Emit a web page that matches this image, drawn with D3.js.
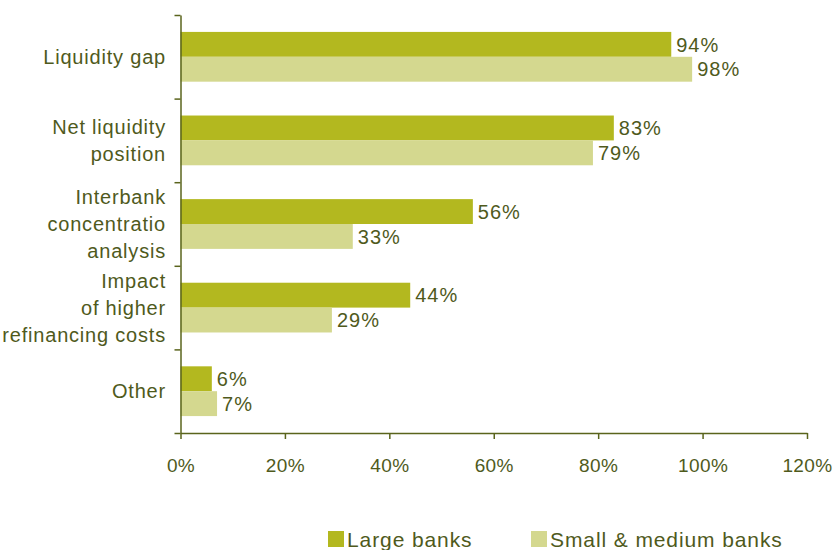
<!DOCTYPE html>
<html>
<head>
<meta charset="utf-8">
<script src="https://cdn.jsdelivr.net/npm/d3@7"></script>
<style>
  body { margin: 0; background: #fff; }
  svg { display: block; font-family: "Liberation Sans", Arial, sans-serif; }
  .axis path, .axis line { stroke: #5a641c; stroke-width: 1.5; }
  .axis text { fill: #4f5a1c; font-size: 19px; letter-spacing: 0.4px; }
  .cat { fill: #4f5a1c; font-size: 20px; letter-spacing: 0.8px; }
  .val { fill: #4f5a1c; font-size: 20px; letter-spacing: 1px; }
  .leg { fill: #4f5a1c; font-size: 21px; letter-spacing: 0.9px; }
</style>
</head>
<body>
<svg id="chart" width="837" height="550"></svg>
<script>
// category labels, as printed (one entry per line)
var categories = ['Liquidity gap', 'Net liquidity position', 'Interbank concentration', 'Impact of higher refinancing costs', 'Other']
var categoryLines = [
  ['Liquidity gap'],
  ['Net liquidity', 'position'],
  ['Interbank', 'concentratio', 'analysis'],
  ['Impact', 'of higher', 'refinancing costs'],
  ['Other']
]
var series = ['Large banks', 'Small & medium banks']
var largeBanks = [0.94, 0.83, 0.56, 0.44, 0.06]
var smallMediumBanks = [0.98, 0.79, 0.33, 0.29, 0.07]
var xTicks = [0, 0.2, 0.4, 0.6, 0.8, 1.0, 1.2]
var colors = ['#b3b81f', '#d4d88f']

;(function () {
  var svg = d3.select('#chart')
  var m = {left: 180.5, right: 807, top: 15, bottom: 433}

  var x = d3.scaleLinear().domain([0, 1.2]).range([m.left, m.right])
  var y = d3.scaleBand().domain(categories).range([m.top, m.bottom])
  var ySub = d3.scaleBand().domain(series).range([0, y.bandwidth()]).paddingOuter(0.68)

  var values = [largeBanks, smallMediumBanks]

  /*
      bars
  */
  var groups = svg.append('g').selectAll('g.cat')
    .data(categories)
    .join('g')
    .attr('transform', d => `translate(0,${y(d)})`)

  groups.each(function (c, ci) {
    var g = d3.select(this)
    series.forEach(function (s, si) {
      var v = values[si][ci]
      g.append('rect')
        .attr('x', x(0))
        .attr('y', ySub(s))
        .attr('width', x(v) - x(0))
        .attr('height', ySub.bandwidth())
        .attr('fill', colors[si])
      g.append('text')
        .attr('class', 'val')
        .attr('x', x(v) + 5)
        .attr('y', ySub(s) + ySub.bandwidth() / 2)
        .attr('dy', '0.36em')
        .text(Math.round(v * 100) + '%')
    })
  })

  /*
      axes
  */
  var yEdges = d3.scaleLinear().domain([0, categories.length]).range([m.top, m.bottom])
  svg.append('g')
    .attr('class', 'axis')
    .attr('transform', `translate(${m.left},0)`)
    .call(d3.axisLeft(yEdges).ticks(categories.length).tickSize(6).tickSizeOuter(0).tickFormat(''))

  svg.append('g')
    .attr('class', 'axis')
    .attr('transform', `translate(0,${m.bottom})`)
    .call(d3.axisBottom(x).tickValues(xTicks).tickSize(6).tickSizeOuter(0).tickPadding(20).tickFormat(d3.format('.0%')))

  svg.selectAll('.axis').attr('font-family', null).attr('font-size', null)

  // category labels
  categoryLines.forEach(function (lines, i) {
    var cy = y(categories[i]) + y.bandwidth() / 2
    var t = svg.append('text')
      .attr('class', 'cat')
      .attr('text-anchor', 'end')
    lines.forEach(function (line, li) {
      t.append('tspan')
        .attr('x', 166)
        .attr('y', cy + (li - (lines.length - 1) / 2) * 27)
        .attr('dy', '0.36em')
        .text(line)
    })
  })

  /*
      legend
  */
  var legendX = [328, 531]
  var legend = svg.append('g').selectAll('g')
    .data(series)
    .join('g')
    .attr('transform', (d, i) => `translate(${legendX[i]},531)`)

  legend.append('rect')
    .attr('width', 16)
    .attr('height', 16)
    .attr('fill', (d, i) => colors[i])

  legend.append('text')
    .attr('class', 'leg')
    .attr('x', 19)
    .attr('y', 8)
    .attr('dy', '0.36em')
    .text(d => d)
})()
</script>
</body>
</html>
